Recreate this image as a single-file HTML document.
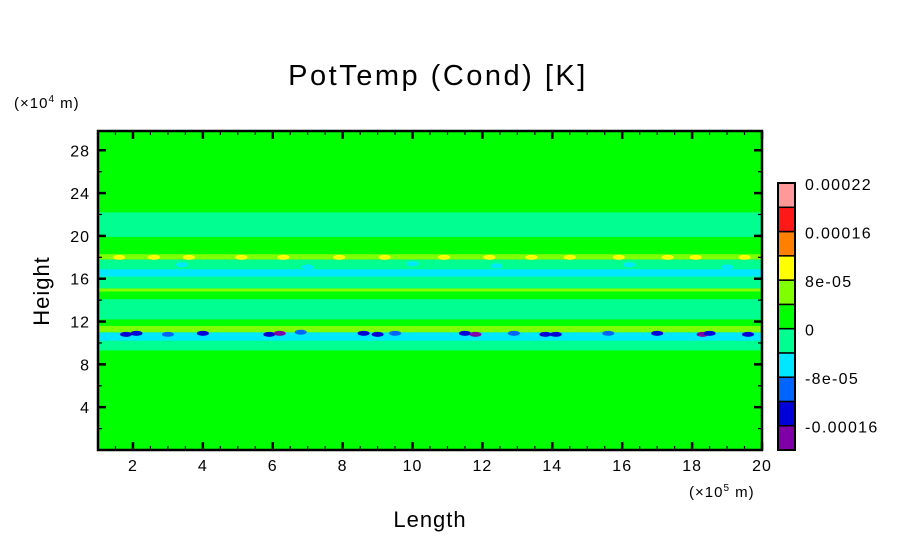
<!DOCTYPE html>
<html><head><meta charset="utf-8"><style>
body{margin:0;background:#fff;}
svg{display:block;font-family:"Liberation Sans",sans-serif;}
</style></head><body>
<svg id="chart" width="904" height="544" viewBox="0 0 904 544">
<text x="438" y="85" font-size="29" text-anchor="middle" letter-spacing="2.5">PotTemp (Cond) [K]</text>
<text x="14" y="108" font-size="15" letter-spacing="1">(×10<tspan font-size="10" dy="-6">4</tspan><tspan dy="6"> m)</tspan></text>
<text transform="translate(49,291) rotate(-90)" font-size="22" text-anchor="middle" letter-spacing="1">Height</text>
<text x="430" y="527" font-size="22" text-anchor="middle" letter-spacing="1">Length</text>
<text x="689" y="497" font-size="15" letter-spacing="1">(×10<tspan font-size="10" dy="-6">5</tspan><tspan dy="6"> m)</tspan></text>
<g id="plot"></g>
<g id="cbar"></g>
</svg>
<script>
const xTicks=[2,4,6,8,10,12,14,16,18,20];
const yTicks=[4,8,12,16,20,24,28];
const levelColors=["#8000a8","#0000d8","#0064ff","#00e8ff","#00ff90","#00ff00","#80ff00","#ffff00","#ff8000","#ff1818","#ff9898"];
const levelLabels=["0.00022","0.00016","8e-05","0","-8e-05","-0.00016"];
// bands: [ymin, ymax, colorIndex] in 10^4 m
const bandLo=[0,9.3,10.2,11.0,11.6,12.2,14.1,14.8,15.1,16.2,16.9,17.8,18.3,19.9];
const bandHi=[30,10.2,11.0,11.6,12.2,14.1,14.8,15.1,16.2,16.9,17.8,18.3,19.9,22.2];
const bandLvl=[5,4,3,6,5,4,5,6,4,3,4,6,5,4];
// blobs: x (10^5 m), y, level
const blobX=[1.8,2.1,3.0,4.0,5.9,6.2,6.8,8.6,9.0,9.5,11.5,11.8,12.9,13.8,14.1,15.6,17.0,18.3,18.5,19.6,3.4,7.0,10.0,12.4,16.2,19.0,1.6,2.6,3.6,5.1,6.3,7.9,9.2,10.9,12.2,13.4,14.5,15.9,17.3,18.1,19.5];
const blobY=[10.8,10.9,10.8,10.9,10.8,10.9,11.0,10.9,10.8,10.9,10.9,10.8,10.9,10.8,10.8,10.9,10.9,10.8,10.9,10.8,17.3,17.1,17.4,17.2,17.3,17.1,18.0,18.0,18.0,18.0,18.0,18.0,18.0,18.0,18.0,18.0,18.0,18.0,18.0,18.0,18.0];
const blobL=[1,1,2,1,1,0,2,1,1,2,1,0,2,1,1,2,1,0,1,1,3,3,3,3,3,3,7,7,7,7,7,7,7,7,7,7,7,7,7,7,7];
const X0=98,X1=762,Y0=450,Y1=131;
const sx=v=>X0+(v-1)*(X1-X0)/19;
const sy=v=>Y0-v*(Y0-Y1)/29.8;
const NS="http://www.w3.org/2000/svg";
const plot=document.getElementById('plot'),cbar=document.getElementById('cbar');
function mk(tag,at,parent){const e=document.createElementNS(NS,tag);for(const k in at)e.setAttribute(k,at[k]);parent.appendChild(e);return e;}
for(let i=0;i<bandLo.length;i++){
  const r=mk('rect',{x:X0,y:sy(Math.min(bandHi[i],29.8)),width:X1-X0,height:sy(bandLo[i])-sy(Math.min(bandHi[i],29.8)),fill:levelColors[bandLvl[i]]},plot);
  
  
}
for(let i=0;i<blobX.length;i++){
  const e=mk('ellipse',{cx:sx(blobX[i]),cy:sy(blobY[i]),rx:6,ry:2.5,fill:levelColors[blobL[i]]},plot);
  
  
}
const fr=mk('rect',{x:X0,y:Y1,width:X1-X0,height:Y0-Y1,fill:'none',stroke:'#000','stroke-width':2.5},plot);


for(let v=1;v<=20.001;v+=0.5){
  const major=Math.abs(v/2-Math.round(v/2))<1e-6, L=major?8:4, w=major?2.5:1.2;
  mk('line',{x1:sx(v),x2:sx(v),y1:Y0,y2:Y0-L,stroke:'#000','stroke-width':w},plot);
  mk('line',{x1:sx(v),x2:sx(v),y1:Y1,y2:Y1+L,stroke:'#000','stroke-width':w},plot);
}
for(let v=2;v<=29;v+=2){
  const major=v%4===0,L=major?8:4,w=major?2.5:1.2;
  mk('line',{x1:X0,x2:X0+L,y1:sy(v),y2:sy(v),stroke:'#000','stroke-width':w},plot);
  mk('line',{x1:X1,x2:X1-L,y1:sy(v),y2:sy(v),stroke:'#000','stroke-width':w},plot);
}
xTicks.forEach(v=>{const t=mk('text',{x:sx(v),y:Y0+21,'font-size':16,'text-anchor':'middle','letter-spacing':1},plot);t.textContent=v;

});
yTicks.forEach(v=>{const t=mk('text',{x:X0-8,y:sy(v)+6,'font-size':16,'text-anchor':'end','letter-spacing':1},plot);t.textContent=v;

});
const CB0=450,CB1=183,bh=(CB0-CB1)/levelColors.length;
levelColors.forEach((c,i)=>{const r=mk('rect',{x:778,y:CB0-(i+1)*bh,width:17,height:bh,fill:c,stroke:'#000','stroke-width':1.5},cbar);

});
mk('rect',{x:778,y:CB1,width:17,height:CB0-CB1,fill:'none',stroke:'#000','stroke-width':2},cbar);
levelLabels.forEach((s,i)=>{const t=mk('text',{x:805,y:CB1+i*2*bh+7,'font-size':16,'letter-spacing':1.3},cbar);t.textContent=s;

});
</script>
</body></html>
